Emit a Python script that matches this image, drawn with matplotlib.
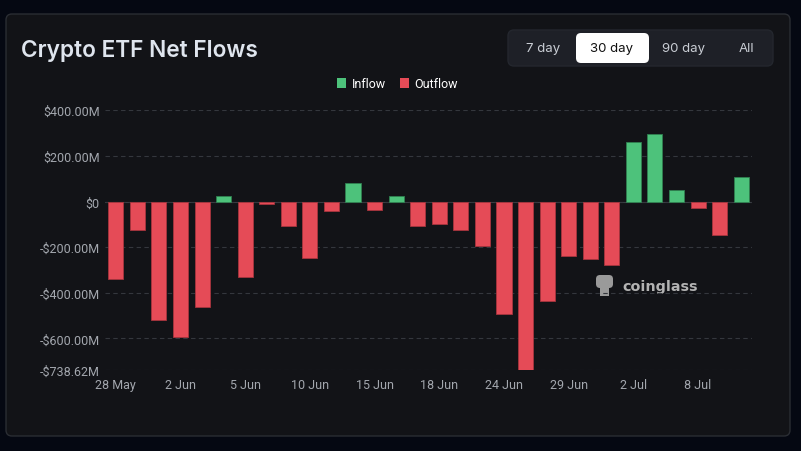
import numpy as np
import matplotlib.pyplot as plt
from matplotlib.patches import FancyBboxPatch, Rectangle

dates = ['28 May', '29 May', '30 May', '2 Jun', '3 Jun', '4 Jun', '5 Jun', '6 Jun',
         '9 Jun', '10 Jun', '11 Jun', '12 Jun', '15 Jun', '16 Jun', '17 Jun', '18 Jun',
         '20 Jun', '23 Jun', '24 Jun', '25 Jun', '26 Jun', '29 Jun', '30 Jun', '1 Jul',
         '2 Jul', '3 Jul', '7 Jul', '8 Jul', '9 Jul', '10 Jul']
flows = [-339, -127, -519, -596, -462, 26, -329, -9, -109, -246,
         -42, 83, -36, 26, -109, -97, -127, -193, -493, -738.62,
         -435, -238, -254, -280, 261, 294, 51, -29, -145, 109]
label_every = 3
yticks = [400, 200, 0, -200, -400, -600, -738.62]
ytick_labels = ['$400.00M', '$200.00M', '$0', '-$200.00M', '-$400.00M', '-$600.00M', '-$738.62M']
buttons = ['7 day', '30 day', '90 day', 'All']

W, H = 801, 452
green = '#4dc27b'
red = '#e54b57'
card = '#121317'
txt_grey = '#a3a7ae'
narrow = ['Liberation Sans Narrow', 'Roboto', 'DejaVu Sans']

fig = plt.figure(figsize=(W / 100, H / 100), dpi=100)
fig.patch.set_facecolor('#050812')

# overlay in pixel coordinates for the card, header and legend
ov = fig.add_axes([0, 0, 1, 1], zorder=0)
ov.set_xlim(0, W)
ov.set_ylim(H, 0)
ov.axis('off')
ov.add_patch(FancyBboxPatch((6, 15), 784, 422, boxstyle='round,pad=0,rounding_size=6',
                            fc=card, ec='#2a2d33', lw=1))
ov.text(21, 51, 'Crypto ETF Net Flows', color='#dfe5ee', fontsize=16.3,
        fontweight='semibold', family=['Inter', 'DejaVu Sans'], va='center', ha='left')

ov.add_patch(FancyBboxPatch((508, 31), 265, 36, boxstyle='round,pad=0,rounding_size=6',
                            fc='#1e2027', ec='#24272e', lw=1))
ov.add_patch(FancyBboxPatch((576, 34), 73, 30, boxstyle='round,pad=0,rounding_size=5',
                            fc='white', ec='none'))
for label, cx in zip(buttons, [543, 612, 684, 746]):
    ov.text(cx, 49, label, color='#111111' if label == '30 day' else '#c9cdd4',
            fontsize=9.5, family=['Inter', 'DejaVu Sans'], ha='center', va='center')

# legend
ov.add_patch(Rectangle((337, 79), 9, 10, fc=green, ec='none'))
ov.text(352, 84, 'Inflow', color='white', fontsize=9, family=narrow, va='center')
ov.add_patch(Rectangle((400, 79), 9, 10, fc=red, ec='none'))
ov.text(414, 84, 'Outflow', color='white', fontsize=9, family=narrow, va='center')

# watermark
ov.add_patch(FancyBboxPatch((596, 276), 17, 13, boxstyle='round,pad=0,rounding_size=4',
                            fc='#9a9a9a', ec='none'))
ov.add_patch(Rectangle((600, 288), 9, 9, fc='#9a9a9a', ec='none'))
ov.text(622, 287, 'coinglass', color='#b3b3b3', fontsize=10.4, fontweight='bold',
        family=['DejaVu Sans'], va='center', ha='left')

# main chart
ax = fig.add_axes([105 / W, 1 - 371 / H, (752 - 105) / W, (371 - 111.3) / H], zorder=1)
ax.set_facecolor('none')
x = np.arange(len(flows))
colors = [green if v >= 0 else red for v in flows]
edges = ['#2f8050' if v >= 0 else '#a8343d' for v in flows]
ax.bar(x, flows, width=0.7, color=colors, edgecolor=edges, linewidth=0.6, zorder=3)

ax.set_xlim(-0.5, len(flows) - 0.5)
ax.set_ylim(-738.62, 400)
ax.set_yticks(yticks)
ax.set_yticklabels(ytick_labels)
ax.set_xticks(x[::label_every])
ax.set_xticklabels(dates[::label_every])
ax.grid(axis='y', color='#34373d', linestyle=(0, (4, 3)), linewidth=0.8, zorder=0)
ax.axhline(0, color='#3a3d43', linewidth=0.8, zorder=1)
for s in ax.spines.values():
    s.set_visible(False)
ax.tick_params(axis='both', length=0, colors=txt_grey, labelsize=9)
ax.tick_params(axis='y', pad=4)
ax.tick_params(axis='x', pad=6)
for lab in ax.get_xticklabels() + ax.get_yticklabels():
    lab.set_family(narrow)

fig.savefig('out.png', dpi=100, facecolor=fig.get_facecolor())
